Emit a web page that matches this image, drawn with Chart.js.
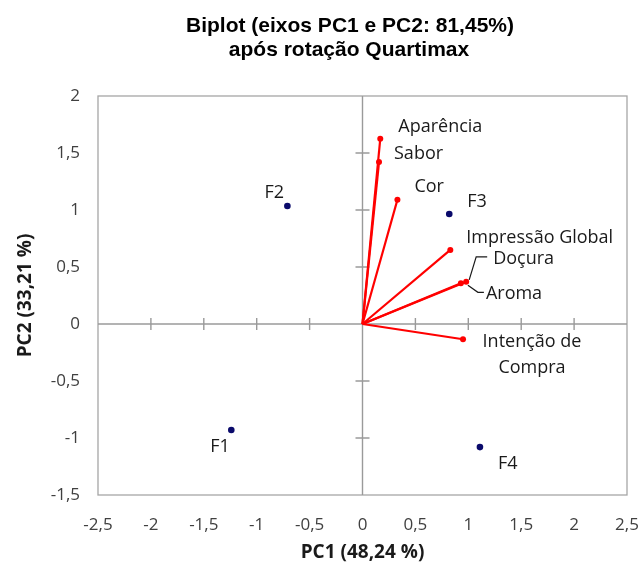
<!DOCTYPE html>
<html>
<head>
<meta charset="utf-8">
<script src="https://cdn.jsdelivr.net/npm/chart.js@4.4.1/dist/chart.umd.min.js"></script>
<style>
  html, body { margin: 0; padding: 0; background: #ffffff; }
  #wrap { width: 641px; height: 570px; position: relative; }
</style>
</head>
<body>
<div id="wrap"><canvas id="c" width="641" height="570"></canvas></div>
<script>
// ---- Data ----
const titleLines = ["Biplot (eixos PC1 e PC2: 81,45%)", "após rotação Quartimax"];
const xTitle = "PC1 (48,24 %)";
const yTitle = "PC2 (33,21 %)";

const sampleNames = ["F1", "F2", "F3", "F4"];
const samplePC1 = [-1.24, -0.71, 0.82, 1.11];
const samplePC2 = [-0.93, 1.035, 0.965, -1.08];

const varNames = ["Aparência", "Sabor", "Cor", "Impressão Global", "Doçura", "Aroma", "Intenção de Compra"];
const varPC1 = [0.168, 0.156, 0.33, 0.83, 0.98, 0.93, 0.95];
const varPC2 = [1.625, 1.42, 1.09, 0.65, 0.37, 0.357, -0.134];

const xTicks = [-2.5, -2, -1.5, -1, -0.5, 0, 0.5, 1, 1.5, 2, 2.5];
const yTicks = [-1.5, -1, -0.5, 0, 0.5, 1, 1.5, 2];

// ---- Label placement (pixel offsets, style only) ----
const varLabelStyle = {
  "Aparência": {dx: 18, dy: -12, lines: ["Aparência"]},
  "Sabor": {dx: 15, dy: -8, lines: ["Sabor"]},
  "Cor": {dx: 17, dy: -13, lines: ["Cor"]},
  "Impressão Global": {dx: 16, dy: -12, lines: ["Impressão Global"]},
  "Doçura": {dx: 27, dy: -23, lines: ["Doçura"], leader: [[3, -2], [10, -25], [21, -25]]},
  "Aroma": {dx: 25, dy: 11, lines: ["Aroma"], leader: [[7, 2], [17, 9], [23, 9]]},
  "Intenção de Compra": {dx: 69, dy: 3, center: true, lines: ["Intenção de", "Compra"]}
};
const sampleLabelStyle = {
  "F1": {dx: -21, dy: 17},
  "F2": {dx: -23, dy: -13},
  "F3": {dx: 18, dy: -12},
  "F4": {dx: 18, dy: 17}
};

const fmt = v => String(v).replace('.', ',');

const datasets = [];
varNames.forEach((n, i) => {
  datasets.push({
    label: n,
    type: 'scatter',
    data: [{x: 0, y: 0}, {x: varPC1[i], y: varPC2[i]}],
    showLine: true,
    borderColor: '#ff0000',
    backgroundColor: '#ff0000',
    borderWidth: 2.2,
    pointRadius: [0, 3],
    pointBorderWidth: 0,
    order: 2
  });
});
datasets.push({
  label: 'Amostras',
  type: 'scatter',
  data: samplePC1.map((x, i) => ({x: x, y: samplePC2[i]})),
  backgroundColor: '#0a0a6b',
  borderColor: '#0a0a6b',
  pointRadius: 3.3,
  pointBorderWidth: 0,
  order: 1
});

const LABEL_FONT = '18px "Open Sans", sans-serif';

const axesPlugin = {
  id: 'axesPlugin',
  beforeDatasetsDraw(chart) {
    const {ctx, chartArea: a, scales: {x, y}} = chart;
    ctx.save();
    ctx.strokeStyle = '#a6a6a6';
    ctx.lineWidth = 1.3;
    ctx.strokeRect(a.left, a.top, a.right - a.left, a.bottom - a.top);
    const x0 = x.getPixelForValue(0), y0 = y.getPixelForValue(0);
    ctx.strokeStyle = '#9a9a9a';
    ctx.lineWidth = 1.4;
    ctx.beginPath();
    ctx.moveTo(a.left, y0); ctx.lineTo(a.right, y0);
    ctx.moveTo(x0, a.top); ctx.lineTo(x0, a.bottom);
    ctx.stroke();
    ctx.beginPath();
    xTicks.forEach(t => {
      if (t === 0 || t === xTicks[0] || t === xTicks[xTicks.length - 1]) return;
      const px = x.getPixelForValue(t);
      ctx.moveTo(px, y0 - 6); ctx.lineTo(px, y0 + 6);
    });
    yTicks.forEach(t => {
      if (t === 0 || t === yTicks[0] || t === yTicks[yTicks.length - 1]) return;
      const py = y.getPixelForValue(t);
      ctx.moveTo(x0 - 7, py); ctx.lineTo(x0 + 7, py);
    });
    ctx.stroke();
    ctx.restore();
  },
  afterDatasetsDraw(chart) {
    const {ctx, scales: {x, y}} = chart;
    ctx.save();
    ctx.font = LABEL_FONT;
    ctx.fillStyle = '#1a1a1a';
    ctx.textBaseline = 'middle';
    varNames.forEach((n, i) => {
      const s = varLabelStyle[n];
      const px = x.getPixelForValue(varPC1[i]);
      const py = y.getPixelForValue(varPC2[i]);
      ctx.textAlign = s.center ? 'center' : 'left';
      s.lines.forEach((ln, k) => ctx.fillText(ln, px + s.dx, py + s.dy + k * 26));
      if (s.leader) {
        ctx.strokeStyle = '#1a1a1a';
        ctx.lineWidth = 1.2;
        ctx.beginPath();
        s.leader.forEach((p, k) => {
          if (k === 0) ctx.moveTo(px + p[0], py + p[1]); else ctx.lineTo(px + p[0], py + p[1]);
        });
        ctx.stroke();
      }
    });
    ctx.textAlign = 'left';
    sampleNames.forEach((n, i) => {
      const s = sampleLabelStyle[n];
      const px = x.getPixelForValue(samplePC1[i]);
      const py = y.getPixelForValue(samplePC2[i]);
      ctx.fillText(n, px + s.dx, py + s.dy);
    });
    ctx.fillStyle = '#000000';
    ctx.font = 'bold 21px "Liberation Sans", Arial, sans-serif';
    ctx.textAlign = 'center';
    ctx.fillText(titleLines[0], 350, 26);
    ctx.fillText(titleLines[1], 349, 50);
    ctx.restore();
  }
};

new Chart(document.getElementById('c'), {
  type: 'scatter',
  data: {datasets},
  plugins: [axesPlugin],
  options: {
    responsive: false,
    animation: false,
    layout: {padding: {left: 0, right: 14, top: 96, bottom: 0}},
    plugins: {legend: {display: false}, tooltip: {enabled: false}, title: {display: false}},
    scales: {
      x: {
        type: 'linear',
        min: -2.5, max: 2.5,
        afterBuildTicks: s => { s.ticks = xTicks.map(v => ({value: v})); },
        afterFit: s => { s.height = 75; s.paddingLeft = 0; s.paddingRight = 0; },
        grid: {display: false, drawTicks: false},
        border: {display: false},
        ticks: {padding: 20, color: '#404040', font: {family: '"Open Sans", sans-serif', size: 17}, callback: v => fmt(v), maxRotation: 0, autoSkip: false},
        title: {display: true, text: xTitle, color: '#1a1a1a', font: {family: '"Open Sans", sans-serif', size: 19, weight: 'bold'}, padding: {top: 0, bottom: 6}}
      },
      y: {
        type: 'linear',
        min: -1.5, max: 2,
        afterBuildTicks: s => { s.ticks = yTicks.map(v => ({value: v})); },
        afterFit: s => { s.width = 98; s.paddingTop = 0; s.paddingBottom = 0; },
        grid: {display: false, drawTicks: false},
        border: {display: false},
        ticks: {padding: 18, color: '#404040', font: {family: '"Open Sans", sans-serif', size: 17}, callback: v => fmt(v), autoSkip: false},
        title: {display: true, text: yTitle, color: '#1a1a1a', font: {family: '"Open Sans", sans-serif', size: 19, weight: 'bold'}, padding: {top: 14, bottom: 0}}
      }
    }
  }
});
</script>
</body>
</html>
